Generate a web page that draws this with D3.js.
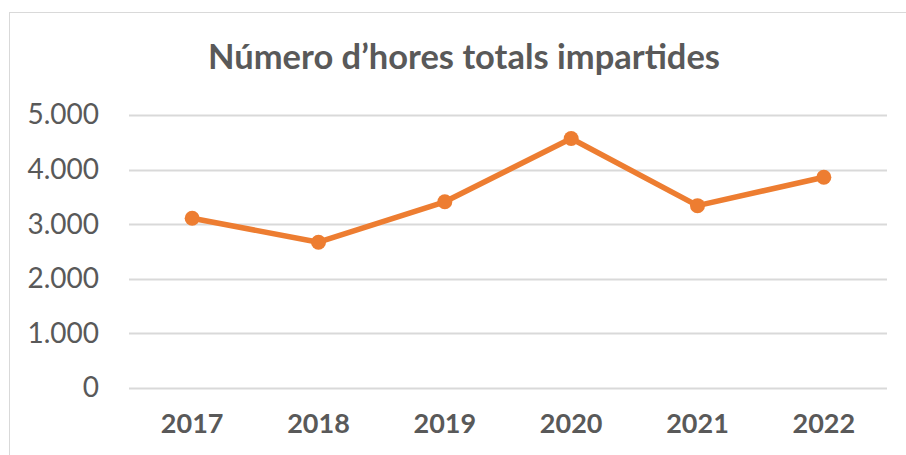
<!DOCTYPE html>
<html>
<head>
<meta charset="utf-8">
<script src="https://cdn.jsdelivr.net/npm/d3@7"></script>
<style>
  body { margin: 0; background: #fff; }
  svg { display: block; font-family: Lato, "Open Sans", sans-serif; }
</style>
</head>
<body>
<figure id="chart" style="margin:0"></figure>
<script>
// data
const title = "Número d\u2019hores totals impartides";
const years = ["2017", "2018", "2019", "2020", "2021", "2022"];
const hours = [3110, 2670, 3410, 4570, 3340, 3860];
const yTicks = [0, 1000, 2000, 3000, 4000, 5000];

var width = 906;
var height = 455;

const svg = d3.select("figure#chart")
  .append("svg")
  .attr("width", width)
  .attr("height", height);

// chart frame
svg.append("rect")
  .attr("x", 9.5).attr("y", 12.5)
  .attr("width", 920).attr("height", 460)
  .attr("fill", "none")
  .attr("stroke", "#d9d9d9");

svg.append("text")
  .attr("x", 464).attr("y", 69)
  .attr("text-anchor", "middle")
  .attr("font-size", 33.5)
  .attr("font-weight", "bold")
  .attr("fill", "#595959")
  .attr("textLength", 512)
  .attr("lengthAdjust", "spacingAndGlyphs")
  .text(title);

const x = d3.scaleBand().domain(years).range([129, 887]);
const y = d3.scaleLinear().domain([0, 5000]).range([388, 115]);

const fmt = v => d3.format(",")(v).replace(/,/g, ".");

// gridlines
svg.append("g")
  .selectAll("line")
  .data(yTicks)
  .join("line")
  .attr("x1", 129).attr("x2", 887)
  .attr("y1", d => Math.round(y(d)) + 0.5)
  .attr("y2", d => Math.round(y(d)) + 0.5)
  .attr("stroke", "#d9d9d9")
  .attr("stroke-width", 2);

// y axis labels
const yAxis = svg.append("g")
  .attr("transform", "translate(129,0)")
  .call(d3.axisLeft(y).tickValues(yTicks).tickFormat(fmt).tickSize(0).tickPadding(30));
yAxis.select(".domain").remove();
yAxis.selectAll("text")
  .attr("font-family", "Lato, 'Open Sans', sans-serif")
  .attr("font-size", 28)
  .attr("fill", "#595959");

// x axis labels
const xAxis = svg.append("g")
  .attr("transform", "translate(0,388)")
  .call(d3.axisBottom(x).tickSize(0).tickPadding(26));
xAxis.select(".domain").remove();
xAxis.selectAll("text")
  .attr("font-family", "Lato, 'Open Sans', sans-serif")
  .attr("font-size", 27)
  .attr("font-weight", "bold")
  .attr("fill", "#595959");

const data = years.map((d, i) => ({ year: d, value: hours[i] }));

const line = d3.line()
  .x(d => x(d.year) + x.bandwidth() / 2)
  .y(d => y(d.value));

svg.append("path")
  .datum(data)
  .attr("d", line)
  .attr("fill", "none")
  .attr("stroke", "#ed7d31")
  .attr("stroke-width", 5.5)
  .attr("stroke-linejoin", "round");

svg.append("g")
  .selectAll("circle")
  .data(data)
  .join("circle")
  .attr("cx", d => x(d.year) + x.bandwidth() / 2)
  .attr("cy", d => y(d.value))
  .attr("r", 7.5)
  .attr("fill", "#ed7d31");
</script>
</body>
</html>
